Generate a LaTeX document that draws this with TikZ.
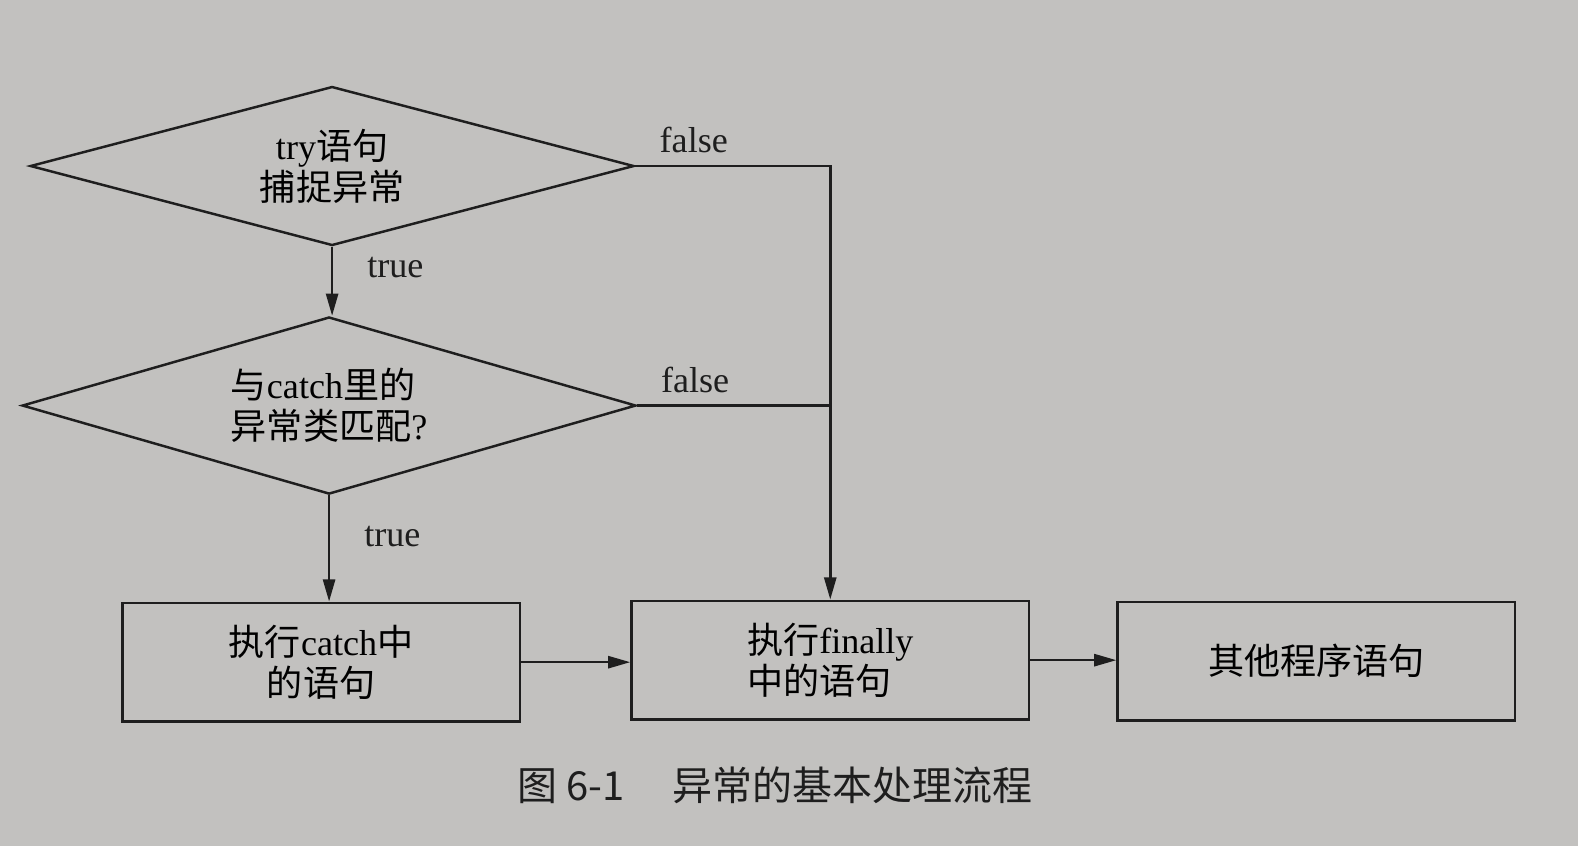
\documentclass[tikz,border=0pt]{standalone}
\usepackage{fontspec}
\usetikzlibrary{arrows.meta,shapes.geometric}
\setmainfont{Liberation Serif}
\newfontfamily\cjk{Noto Sans CJK SC}
\newcommand{\zhtxt}[1]{{\cjk #1}}
\definecolor{pagegray}{HTML}{C2C1BF}
\definecolor{inkblack}{HTML}{1E1E1E}

\begin{document}
\begin{tikzpicture}[
    decision/.style={diamond,draw=inkblack,line width=0.7pt,aspect=3.8,
      inner sep=1pt,font=\fontsize{10.2}{11.6}\selectfont},
    box/.style={draw=inkblack,line width=0.7pt,minimum height=11.8mm,
      minimum width=39.5mm,font=\fontsize{10.2}{11.6}\selectfont},
    flow/.style={-{Triangle[length=2.2mm,width=1.2mm]},line width=0.7pt,draw=inkblack},
    plain/.style={line width=0.7pt,draw=inkblack},
    lbl/.style={font=\fontsize{10.2}{11.6}\selectfont,text=inkblack}
  ]
    \fill[pagegray] (0,0) rectangle (15.68,8.41);
    \useasboundingbox (0,0) rectangle (15.68,8.41);

    \node[decision,minimum width=60mm,minimum height=15.8mm,align=center]
      (try) at (3.30,6.76) {try\zhtxt{语句}\\\zhtxt{捕捉异常}};
    \node[decision,minimum width=61mm,minimum height=17.6mm,align=left]
      (match) at (3.27,4.38) {\zhtxt{与}catch\zhtxt{里的}\\\zhtxt{异常类匹配}?};
    \node[box,align=center] (catch) at (3.19,1.83) {\zhtxt{执行}catch\zhtxt{中}\\\zhtxt{的语句}};
    \node[box,align=left] (fin) at (8.25,1.85) {\zhtxt{执行}finally\\\zhtxt{中的语句}};
    \node[box] (other) at (13.08,1.84) {\zhtxt{其他程序语句}};

    \draw[flow] (try.south) -- node[lbl,right,pos=0.3,xshift=2.2mm]{true} (try.south |- match.north);
    \draw[flow] (match.south) -- node[lbl,right,pos=0.39,xshift=2.2mm]{true} (match.south |- catch.north);
    \draw[flow] (try.east) -- node[lbl,above,pos=0.3]{false} (try.east -| fin.north) -- (fin.north);
    \draw[plain] (match.east) -- node[lbl,above,pos=0.3]{false} (match.east -| fin.north);
    \draw[flow] (catch.east) -- (catch.east -| fin.west);
    \draw[flow] (fin.east) -- (fin.east -| other.west);

    \node[font=\cjk\fontsize{11.3}{13}\selectfont,text=inkblack] (caption) at (7.70,0.61)
      {图 6-1\hspace{1.2em}异常的基本处理流程};
  \end{tikzpicture}
\end{document}
